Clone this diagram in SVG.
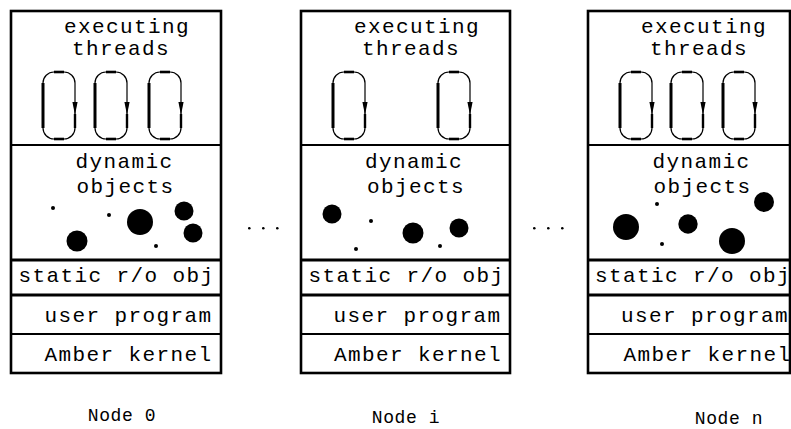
<svg xmlns="http://www.w3.org/2000/svg" width="791" height="429" viewBox="0 0 791 429">
  <style>
    .frame { fill: none; stroke: #000; stroke-width: 2.6; }
    .div-thin { stroke: #000; stroke-width: 1.8; }
    .div-thick { stroke: #000; stroke-width: 3; }
    .lbl { font-family: "Liberation Mono", "DejaVu Sans Mono", monospace; font-size: 21px; letter-spacing: 1.4px; fill: #000; text-anchor: middle; }
    .node-lbl { font-family: "Liberation Mono", "DejaVu Sans Mono", monospace; font-size: 18px; letter-spacing: 0.6px; fill: #000; text-anchor: middle; }
    .obj { fill: #000; }
  </style>
  <defs>
    <!-- a thread loop: rounded track with a downward arrow on its right side -->
    <g id="loop">
      <rect x="0" y="0" width="32" height="67" rx="11" ry="11" fill="none" stroke="#000" stroke-width="1.2"/>
      <line x1="0" y1="11" x2="0" y2="56" stroke="#000" stroke-width="3"/>
      <line x1="11" y1="0" x2="21" y2="0" stroke="#000" stroke-width="2.6"/>
      <line x1="11" y1="67" x2="21" y2="67" stroke="#000" stroke-width="2.6"/>
      <line x1="32" y1="42" x2="32" y2="56" stroke="#000" stroke-width="2.4"/>
      <polygon points="29.4,30 34.6,30 32,43" fill="#000"/>
    </g>
  </defs>

  <!-- Node 0 -->
  <g id="node0">
    <rect class="frame" x="11" y="11" width="210" height="362"/>
    <line class="div-thin" x1="11" y1="145" x2="221" y2="145"/>
    <line class="div-thick" x1="11" y1="260" x2="221" y2="260"/>
    <line class="div-thick" x1="11" y1="295" x2="221" y2="295"/>
    <line class="div-thin" x1="11" y1="334" x2="221" y2="334"/>
    <text class="lbl" x="127" y="33">executing</text>
    <text class="lbl" x="121" y="55">threads</text>
    <use href="#loop" x="43" y="72"/>
    <use href="#loop" x="95" y="72"/>
    <use href="#loop" x="149" y="72"/>
    <text class="lbl" x="124.5" y="168">dynamic</text>
    <text class="lbl" x="125.5" y="193">objects</text>
    <circle class="obj" cx="53" cy="208" r="2"/>
    <circle class="obj" cx="109" cy="215" r="2"/>
    <circle class="obj" cx="140" cy="222" r="13"/>
    <circle class="obj" cx="184" cy="211" r="9.5"/>
    <circle class="obj" cx="193" cy="233" r="9.5"/>
    <circle class="obj" cx="77" cy="241" r="10.5"/>
    <circle class="obj" cx="156" cy="246" r="2"/>
    <text class="lbl" x="116.5" y="282">static r/o obj</text>
    <text class="lbl" x="128.5" y="322">user program</text>
    <text class="lbl" x="128.5" y="361">Amber kernel</text>
    <text class="node-lbl" x="122" y="421">Node 0</text>
  </g>

  <!-- Node i -->
  <g id="nodei">
    <rect class="frame" x="301" y="11" width="209" height="362"/>
    <line class="div-thin" x1="301" y1="145" x2="510" y2="145"/>
    <line class="div-thick" x1="301" y1="260" x2="510" y2="260"/>
    <line class="div-thick" x1="301" y1="295" x2="510" y2="295"/>
    <line class="div-thin" x1="301" y1="334" x2="510" y2="334"/>
    <text class="lbl" x="417" y="33">executing</text>
    <text class="lbl" x="411" y="55">threads</text>
    <use href="#loop" x="333" y="72"/>
    <use href="#loop" x="438" y="72"/>
    <text class="lbl" x="414" y="168">dynamic</text>
    <text class="lbl" x="416" y="193">objects</text>
    <circle class="obj" cx="332" cy="214" r="9.5"/>
    <circle class="obj" cx="371" cy="221" r="2"/>
    <circle class="obj" cx="413" cy="233" r="10.5"/>
    <circle class="obj" cx="459" cy="228" r="9.5"/>
    <circle class="obj" cx="356" cy="249" r="2"/>
    <circle class="obj" cx="440" cy="246" r="2"/>
    <text class="lbl" x="406.5" y="282">static r/o obj</text>
    <text class="lbl" x="417.5" y="322">user program</text>
    <text class="lbl" x="418" y="361">Amber kernel</text>
    <text class="node-lbl" x="406" y="423">Node i</text>
  </g>

  <!-- Node n -->
  <g id="noden">
    <rect class="frame" x="588" y="11" width="202" height="362"/>
    <line class="div-thin" x1="588" y1="145" x2="790" y2="145"/>
    <line class="div-thick" x1="588" y1="260" x2="790" y2="260"/>
    <line class="div-thick" x1="588" y1="295" x2="790" y2="295"/>
    <line class="div-thin" x1="588" y1="334" x2="790" y2="334"/>
    <text class="lbl" x="704" y="33">executing</text>
    <text class="lbl" x="699" y="55">threads</text>
    <use href="#loop" x="620" y="72"/>
    <use href="#loop" x="671" y="72"/>
    <use href="#loop" x="723" y="72"/>
    <text class="lbl" x="701.5" y="168">dynamic</text>
    <text class="lbl" x="702.5" y="193">objects</text>
    <circle class="obj" cx="764" cy="202" r="10"/>
    <circle class="obj" cx="657" cy="204" r="2"/>
    <circle class="obj" cx="626" cy="227" r="13"/>
    <circle class="obj" cx="688" cy="224" r="9.7"/>
    <circle class="obj" cx="732" cy="241" r="13"/>
    <circle class="obj" cx="662" cy="244" r="2"/>
    <text class="lbl" x="693" y="282">static r/o obj</text>
    <text class="lbl" x="705" y="322">user program</text>
    <text class="lbl" x="707.5" y="361">Amber kernel</text>
    <text class="node-lbl" x="729" y="424">Node n</text>
  </g>

  <!-- ellipses between nodes -->
  <g id="connectors">
    <circle class="obj" cx="249.3" cy="228.3" r="1.3"/>
    <circle class="obj" cx="263.3" cy="228.3" r="1.3"/>
    <circle class="obj" cx="277.3" cy="228.3" r="1.3"/>
    <circle class="obj" cx="534.3" cy="228.3" r="1.3"/>
    <circle class="obj" cx="548.3" cy="228.3" r="1.3"/>
    <circle class="obj" cx="562.3" cy="228.3" r="1.3"/>
  </g>
</svg>
